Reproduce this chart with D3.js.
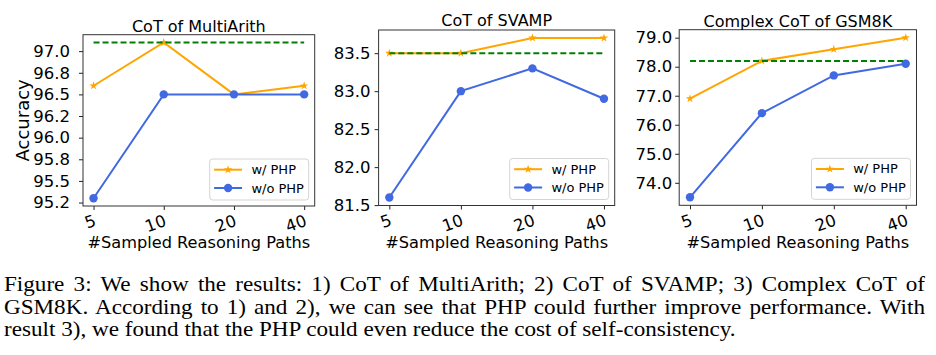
<!DOCTYPE html>
<html><head><meta charset="utf-8">
<script src="https://cdn.jsdelivr.net/npm/d3@7"></script>
<style>body{margin:0;background:#fff} svg{display:block}</style>
</head><body>
<svg id="c" width="936" height="355"></svg>
<script>
// ---- data ----
const sampledPaths = ["5", "10", "20", "40"];
const seriesNames = ["w/ PHP", "w/o PHP"];

const multiArithWithPHP = [96.6, 97.1, 96.5, 96.6];
const multiArithWithoutPHP = [95.3, 96.5, 96.5, 96.5];
const multiArithBaseline = 97.1;
const multiArithTicks = [95.25, 95.5, 95.75, 96.0, 96.25, 96.5, 96.75, 97.0];
const multiArithTickLabels = ["95.2", "95.5", "95.8", "96.0", "96.2", "96.5", "96.8", "97.0"];

const svampWithPHP = [83.5, 83.5, 83.7, 83.7];
const svampWithoutPHP = [81.6, 83.0, 83.3, 82.9];
const svampBaseline = 83.5;
const svampTicks = [81.5, 82.0, 82.5, 83.0, 83.5];
const svampTickLabels = ["81.5", "82.0", "82.5", "83.0", "83.5"];

const gsmWithPHP = [76.9, 78.2, 78.6, 79.0];
const gsmWithoutPHP = [73.5, 76.4, 77.7, 78.1];
const gsmBaseline = 78.2;
const gsmTicks = [74, 75, 76, 77, 78, 79];
const gsmTickLabels = ["74.0", "75.0", "76.0", "77.0", "78.0", "79.0"];

const captionLines = [
  "Figure 3: We show the results: 1) CoT of MultiArith; 2) CoT of SVAMP; 3) Complex CoT of",
  "GSM8K. According to 1) and 2), we can see that PHP could further improve performance. With",
  "result 3), we found that the PHP could even reduce the cost of self-consistency."
];

// ---- layout ----
const panels = [
  {title: "CoT of MultiArith", w: multiArithWithPHP, wo: multiArithWithoutPHP, base: multiArithBaseline,
   ticks: multiArithTicks, labels: multiArithTickLabels, box: {l: 83, r: 314.7, t: 34.7, b: 206},
   titleY: 31.5, tickPad: 9, yLabel: "Accuracy"},
  {title: "CoT of SVAMP", w: svampWithPHP, wo: svampWithoutPHP, base: svampBaseline,
   ticks: svampTicks, labels: svampTickLabels, box: {l: 378.6, r: 614.7, t: 30, b: 205.5},
   titleY: 26, tickPad: 4},
  {title: "Complex CoT of GSM8K", w: gsmWithPHP, wo: gsmWithoutPHP, base: gsmBaseline,
   ticks: gsmTicks, labels: gsmTickLabels, box: {l: 679.2, r: 916.5, t: 29.7, b: 205.3},
   titleY: 26.5, tickPad: 3}
];

const ORANGE = "#FFA500", BLUE = "#4169E1", GREEN = "#008000";
const FONT = "DejaVu Sans, sans-serif";
const svg = d3.select("#c");
const star = d3.symbol().type(d3.symbolStar).size(22);

panels.forEach(p => {
  const {l, r, t, b} = p.box;
  const g = svg.append("g");
  const x = d3.scalePoint().domain(sampledPaths).range([l, r]).padding(0.15);
  const all = p.w.concat(p.wo, [p.base]);
  const mn = d3.min(all), mx = d3.max(all), span = mx - mn;
  const y = d3.scaleLinear().domain([mn - 0.05 * span, mx + 0.05 * span]).range([b, t]);

  // axes
  const ya = g.append("g").attr("transform", `translate(${l},0)`)
    .call(d3.axisLeft(y).tickValues(p.ticks).tickFormat((d, i) => p.labels[i]).tickSize(4).tickPadding(p.tickPad));
  ya.select(".domain").remove();
  ya.selectAll("line").attr("stroke", "#222");
  ya.selectAll("text").attr("font-family", FONT).attr("font-size", 16.5).attr("fill", "#000");

  const xa = g.append("g").attr("transform", `translate(0,${b})`)
    .call(d3.axisBottom(x).tickSize(4));
  xa.select(".domain").remove();
  xa.selectAll("line").attr("stroke", "#222");
  xa.selectAll("text").attr("font-family", FONT).attr("font-size", 16.5).attr("fill", "#000")
    .attr("y", 0).attr("dy", 0).attr("text-anchor", "end")
    .attr("dominant-baseline", "hanging")
    .attr("transform", "translate(-1,8) rotate(-20)");

  g.append("rect").attr("x", l).attr("y", t).attr("width", r - l).attr("height", b - t)
    .attr("fill", "none").attr("stroke", "#333").attr("stroke-width", 1);

  // title & labels
  g.append("text").attr("x", (l + r) / 2).attr("y", p.titleY).attr("text-anchor", "middle")
    .attr("font-family", FONT).attr("font-size", 16).text(p.title);
  g.append("text").attr("x", (l + r) / 2).attr("y", 248).attr("text-anchor", "middle")
    .attr("font-family", FONT).attr("font-size", 16.2).text("#Sampled Reasoning Paths");
  if (p.yLabel) {
    g.append("text").attr("transform", `translate(29,${(t + b) / 2}) rotate(-90)`)
      .attr("text-anchor", "middle").attr("font-family", FONT).attr("font-size", 18).text(p.yLabel);
  }

  // lines
  const line = d3.line().x((d, i) => x(sampledPaths[i])).y(d => y(d));
  g.append("path").datum(p.w).attr("d", line).attr("fill", "none").attr("stroke", ORANGE).attr("stroke-width", 2);
  g.selectAll(".st").data(p.w).enter().append("path")
    .attr("transform", (d, i) => `translate(${x(sampledPaths[i])},${y(d)})`)
    .attr("d", star).attr("fill", ORANGE);
  g.append("path").datum(p.wo).attr("d", line).attr("fill", "none").attr("stroke", BLUE).attr("stroke-width", 2);
  g.selectAll(".ci").data(p.wo).enter().append("circle")
    .attr("cx", (d, i) => x(sampledPaths[i])).attr("cy", d => y(d)).attr("r", 4.2).attr("fill", BLUE);
  g.append("line").attr("x1", x(sampledPaths[0])).attr("x2", x(sampledPaths[sampledPaths.length - 1]))
    .attr("y1", y(p.base)).attr("y2", y(p.base))
    .attr("stroke", GREEN).attr("stroke-width", 2).attr("stroke-dasharray", "6,3");

  // legend
  const lw = 99, lh = 41, lx = r - 6 - lw, ly = b - 6 - lh;
  const lg = g.append("g").attr("transform", `translate(${lx},${ly})`);
  lg.append("rect").attr("width", lw).attr("height", lh).attr("rx", 3)
    .attr("fill", "#fff").attr("fill-opacity", 0.8).attr("stroke", "#d4d4d4");
  const rows = [10.7, 29];
  seriesNames.forEach((name, i) => {
    const c = i === 0 ? ORANGE : BLUE;
    lg.append("line").attr("x1", 4.4).attr("x2", 32.4).attr("y1", rows[i]).attr("y2", rows[i])
      .attr("stroke", c).attr("stroke-width", 2);
    if (i === 0) lg.append("path").attr("d", star).attr("transform", `translate(18.4,${rows[i]})`).attr("fill", c);
    else lg.append("circle").attr("cx", 18.4).attr("cy", rows[i]).attr("r", 4.2).attr("fill", c);
    lg.append("text").attr("x", 41.7).attr("y", rows[i]).attr("dominant-baseline", "central")
      .attr("font-family", FONT).attr("font-size", 13).text(name);
  });
});

// caption (slightly condensed-height serif, as in the reference)
const capX = 4, capR = 925, capY = [291, 313.5, 336], sx = 1.14;
captionLines.forEach((s, i) => {
  const cg = svg.append("g").attr("transform", `translate(${capX},${capY[i]}) scale(${sx},1)`);
  const tx = cg.append("text").attr("x", 0).attr("y", 0)
    .attr("font-family", "Liberation Serif, Times New Roman, serif").attr("font-size", 20.3)
    .attr("fill", "#000").text(s);
  if (i < captionLines.length - 1) {
    const w = tx.node().getComputedTextLength();
    const spaces = (s.match(/ /g) || []).length;
    tx.attr("word-spacing", ((capR - capX) / sx - w) / spaces);
  }
});
</script>
</body></html>
